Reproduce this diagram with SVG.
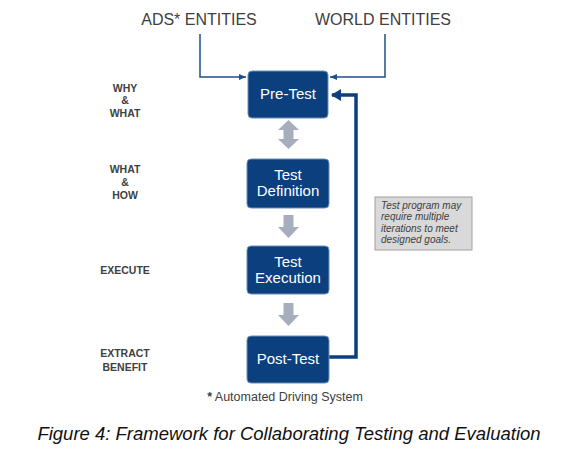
<svg xmlns="http://www.w3.org/2000/svg" width="580" height="466" viewBox="0 0 580 466">
<style>
.box{fill:#0b3f7e;stroke:#6f8fb5;stroke-width:1}
.bt{font-family:"Liberation Sans",Arial,sans-serif;font-size:15px;fill:#fff;text-anchor:middle}
.hd{font-family:"Liberation Sans",Arial,sans-serif;font-size:16px;fill:#404040;text-anchor:middle}
.lb{font-family:"Liberation Sans",Arial,sans-serif;font-size:10.5px;font-weight:bold;fill:#404040;text-anchor:middle}
.ln{fill:none;stroke:#1f4e8c;stroke-width:1.5}
.fb{fill:none;stroke:#0b3f7e;stroke-width:3.5}
.ga{fill:#a6adbd}
</style>
<defs>
<marker id="ah" markerWidth="8" markerHeight="8" refX="7" refY="4" orient="auto" markerUnits="userSpaceOnUse">
<path d="M0,1 L7,4 L0,7 z" fill="#1f4e8c"/>
</marker>
<marker id="ah2" markerWidth="12" markerHeight="12" refX="9" refY="6" orient="auto" markerUnits="userSpaceOnUse">
<path d="M0,0 L10,6 L0,12 z" fill="#0b3f7e"/>
</marker>
</defs>
<rect width="580" height="466" fill="#fff"/>
<text class="hd" x="199" y="25">ADS* ENTITIES</text>
<text class="hd" x="383" y="25">WORLD ENTITIES</text>
<g id="labels">
<text class="lb" x="125" y="92">WHY</text>
<text class="lb" x="125" y="104">&amp;</text>
<text class="lb" x="125" y="117">WHAT</text>
<text class="lb" x="125" y="173">WHAT</text>
<text class="lb" x="125" y="186">&amp;</text>
<text class="lb" x="125" y="199">HOW</text>
<text class="lb" x="125" y="274">EXECUTE</text>
<text class="lb" x="125" y="357">EXTRACT</text>
<text class="lb" x="125" y="371">BENEFIT</text>
</g>
<g id="connectors">
<path class="ln" d="M200,34 V77 H246" marker-end="url(#ah)"/>
<path class="ln" d="M385,34 V77 H330" marker-end="url(#ah)"/>
<path class="fb" d="M329,357 H356 V95 H332" marker-end="url(#ah2)"/>
<path class="ga" d="M288.5,120 L299,130 H293.5 V139 H299 L288.5,149 L278,139 H283.5 V130 H278 z"/>
<path class="ga" d="M283.5,215 H293.5 V227 H299 L288.5,238 L278,227 H283.5 z"/>
<path class="ga" d="M283.5,303 H293.5 V315 H299 L288.5,326 L278,315 H283.5 z"/>
</g>
<g id="pretest">
<rect class="box" x="248" y="71" width="80" height="47" rx="4"/>
<text class="bt" x="288" y="99">Pre-Test</text>
</g>
<g id="testdef">
<rect class="box" x="247" y="159" width="82" height="49" rx="4"/>
<text class="bt" x="288" y="180">Test</text>
<text class="bt" x="288" y="196">Definition</text>
</g>
<g id="testexec">
<rect class="box" x="247" y="246" width="82" height="48" rx="4"/>
<text class="bt" x="288" y="267">Test</text>
<text class="bt" x="288" y="283">Execution</text>
</g>
<g id="posttest">
<rect class="box" x="247" y="336" width="82" height="47" rx="4"/>
<text class="bt" x="288" y="364">Post-Test</text>
</g>
<g id="note">
<rect x="375" y="197" width="97" height="53" fill="#d9d9d9" stroke="#a0a0a0" stroke-width="1"/>
<g font-family="Liberation Sans,Arial,sans-serif" font-size="10" font-style="italic" fill="#404040">
<text x="381" y="209">Test program may</text>
<text x="381" y="220">require multiple</text>
<text x="381" y="232">iterations to meet</text>
<text x="381" y="243">designed goals.</text>
</g>
</g>
<text x="285" y="401" font-family="Liberation Sans,Arial,sans-serif" font-size="12.5" fill="#404040" text-anchor="middle"><tspan font-weight="bold">*</tspan> Automated Driving System</text>
<text x="289" y="440" font-family="Liberation Sans,Arial,sans-serif" font-size="18.5" font-style="italic" fill="#111" text-anchor="middle">Figure 4: Framework for Collaborating Testing and Evaluation</text>
</svg>
